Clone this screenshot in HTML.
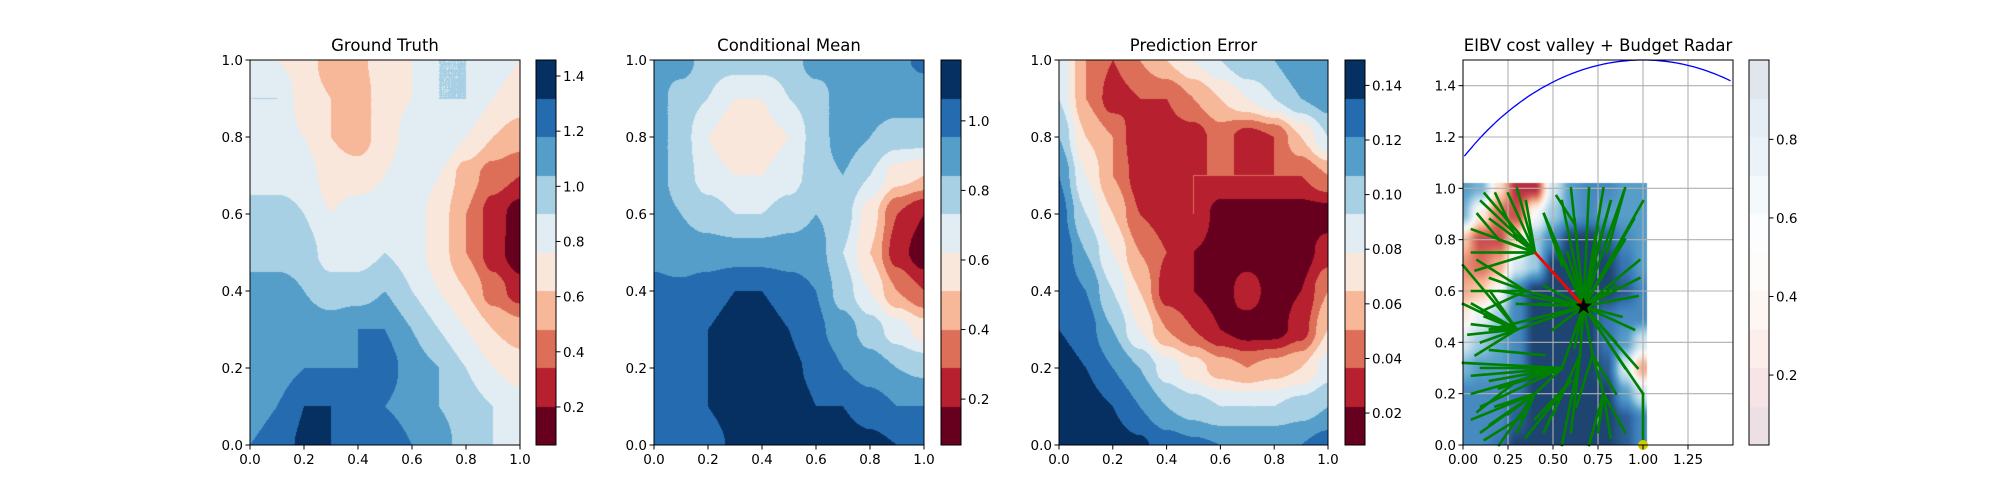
<!DOCTYPE html>
<html><head><meta charset="utf-8">
<style>
html,body{margin:0;padding:0;background:#fff;}
#wrap{position:relative;width:2000px;height:500px;overflow:hidden;font-family:"DejaVu Sans","Liberation Sans",sans-serif;}
canvas{position:absolute;}
svg{position:absolute;left:0;top:0;}
</style></head>
<body>
<div id="wrap">
<canvas id="c1"></canvas>
<canvas id="c2"></canvas>
<canvas id="c3"></canvas>
<canvas id="c4"></canvas>
<canvas id="cb1"></canvas>
<canvas id="cb2"></canvas>
<canvas id="cb3"></canvas>
<canvas id="cb4"></canvas>
<svg id="ov" width="2000" height="500"></svg>
</div>
<script>
// ---- data: bin levels (0 = darkest red .. 9.99 = darkest blue), rows y=1.0 -> 0.0, cols x=0..1 step 0.1
const gtGrid = [
[5,5,4.5,3.5,3.8,4.5,5,6,6,5.5,5],
[6,6,4.5,4,3.5,4.5,5,6,6,5,4.5],
[5.5,5.5,5,4,3.5,4.5,5.5,6,5,4,3.5],
[5.5,5.5,5.5,4.5,4.5,5,6,5,3.5,2.5,2],
[6.5,6.5,6,5,5.5,5.5,5.5,4.5,3,1.5,0.5],
[6.5,6.5,6.5,5.5,5.5,6,5.5,4.5,3,1.5,0.3],
[7.5,7.5,7,6.5,6.5,7,6,5,4,2.5,1.5],
[7.5,7.5,7.5,7.5,8,8,7,6,5,4,3.5],
[7.5,7.5,8,8,8,8.5,7.5,7,6,5,4.5],
[7.5,8,9,9,8,8,7.5,7,6.5,6,5.5],
[8,8.5,9.2,9,8.5,9,8,7.5,6.5,6,6]];
const meanGrid = [
[7.5,7.5,6.5,6.5,6.5,6.5,7.5,7.5,7.5,7.8,8.2],
[7.5,6.5,6,5,5,6,6.5,7.5,7.5,7.5,7.5],
[7.5,6.5,5,4,4.5,5,6.5,7.5,7,6.5,6.5],
[7.5,6.5,5.5,5,5,5.5,6.5,7,6,4.5,4],
[7.5,7,6.5,6,6,6.5,7,6.5,4.5,2,1],
[7.8,7.5,7.5,7.5,7.5,7.5,7.5,6,4,1.5,0.3],
[8.2,8.2,8.5,9,9,8.5,8,6.5,5,3,2],
[8.2,8.5,9,9.5,9.5,9,8.2,7.5,6.5,5.5,4.5],
[8.2,8.5,9,9.5,9.5,9.2,8.8,8,7.5,7,6.8],
[8.2,8.5,9,9.5,9.5,9.5,9,9,8.5,8,8],
[8.2,8.2,8.5,9.2,9.5,9.5,9.5,9.5,9.3,9,8.5]];
const errGrid = [
[6,3,2,3,4,5,6,7,7,8,8],
[6,3,1.5,2,2,3,4,5,6,7,7.5],
[7,4,3,1,1.5,1.5,2.5,1.5,2,4,6],
[8,5,3,1.5,1.5,2,2,2,2,2,3],
[8.5,6,4,2,1.5,2,0.5,0.5,0.5,0.5,0.5],
[9,7,5,3,2,1,0.5,0.5,0.5,0.5,1.5],
[9,8,6,4,1.5,1,0.5,1.5,0.5,1,3],
[9,8.5,7,5,3,2,1,0.5,0.5,1.5,4],
[9.5,9,8,7,5.5,4.5,3.5,3,3.5,4,5.5],
[9.5,9.5,9,8,7,6.5,6,6,6,6.5,7],
[9.5,9.5,9.5,9.2,8.5,8.2,8,8,8,8,8.5]];
// cost field 0 (red) .. 1 (blue)
const costGrid = [
[0.8,0.75,0.4,0.1,0.1,0.6,0.8,0.85,0.85,0.8,0.8],
[0.75,0.45,0.2,0.15,0.5,0.7,0.8,0.85,0.8,0.8,0.8],
[0.35,0.15,0.15,0.4,0.7,0.85,1,1,0.95,0.85,0.8],
[0.25,0.2,0.3,0.6,0.7,1,1,1,1,0.9,0.8],
[0.3,0.35,0.5,0.85,1,1,1,1,1,0.95,0.85],
[0.45,0.55,0.7,0.85,1,1,1,1,0.9,0.85,0.85],
[0.6,0.7,0.78,0.85,1,1,1,1,0.9,0.8,0.6],
[0.75,0.8,0.8,0.85,1,1,1,1,0.95,0.6,0.3],
[0.85,0.85,0.85,0.9,1,1,1,1,1,0.8,0.6],
[0.85,0.85,0.85,0.95,1,1,1,1,1,0.95,0.85],
[0.85,0.85,0.9,1,1,1,1,1,1,0.95,0.85]];
const unitTicks = [0,0.2,0.4,0.6,0.8,1.0];
const unitTickLabels = ["0.0","0.2","0.4","0.6","0.8","1.0"];
const p4xTicks = [0,0.25,0.5,0.75,1.0,1.25];
const p4xTickLabels = ["0.00","0.25","0.50","0.75","1.00","1.25"];
const p4yTicks = [0,0.2,0.4,0.6,0.8,1.0,1.2,1.4];
const p4yTickLabels = ["0.0","0.2","0.4","0.6","0.8","1.0","1.2","1.4"];
const cb1Ticks = [0.2,0.4,0.6,0.8,1.0,1.2,1.4];
const cb1Range = [0.062,1.458];
const cb2Ticks = [0.2,0.4,0.6,0.8,1.0];
const cb2Range = [0.068,1.175];
const cb3Ticks = [0.02,0.04,0.06,0.08,0.10,0.12,0.14];
const cb3Labels = ["0.02","0.04","0.06","0.08","0.10","0.12","0.14"];
const cb3Range = [0.0083,0.1493];
const cb4Ticks = [0.2,0.4,0.6,0.8];
const cb4Range = [0.022,1.002];
const star = [0.67,0.54];
const redPath = [[0.67,0.54],[0.4,0.75]];
const radarCenter = [1.0,0.0];
const radarRadius = 1.5;
// tree segments [x1,y1,x2,y2]
const treeSegs = [
[0.67,0.54,0.4,0.75],[0.67,0.54,0.3,0.45],[0.67,0.54,0.55,0.3],[0.67,0.54,0.72,0.35],[0.67,0.54,0.85,0.4],
[0.67,0.54,0.95,0.45],[0.67,0.54,0.97,0.58],[0.67,0.54,0.98,0.65],[0.67,0.54,0.9,0.8],[0.67,0.54,0.82,0.95],
[0.67,0.54,0.9,1.0],[0.67,0.54,1.0,0.95],[0.67,0.54,0.55,0.95],[0.67,0.54,0.45,0.9],[0.67,0.54,0.6,1.0],
[0.67,0.54,0.7,1.0],[0.67,0.54,0.78,1.0],[0.67,0.54,0.35,0.6],[0.67,0.54,0.2,0.6],[0.67,0.54,0.3,0.55],
[0.67,0.54,0.97,0.3],[0.67,0.54,0.62,0.38],[0.67,0.54,0.5,0.45],[0.67,0.54,0.15,0.45],[0.67,0.54,0.9,0.3],
[0.67,0.54,0.98,0.72],[0.67,0.54,0.95,0.88],[0.67,0.54,0.5,0.8],[0.67,0.54,0.62,0.88],[0.67,0.54,0.75,0.85],
[0.67,0.54,0.85,0.62],[0.67,0.54,0.88,0.5],[0.67,0.54,0.45,0.62],[0.67,0.54,0.42,0.55],[0.67,0.54,0.58,0.75],
[0.52,0.97,0.62,0.86],[0.45,0.9,0.55,0.7],[0.82,0.95,0.72,0.7],[0.9,1.0,0.8,0.75],
[0.4,0.75,0.05,0.84],[0.4,0.75,0.15,0.88],[0.4,0.75,0.1,0.95],[0.4,0.75,0.25,0.98],[0.4,0.75,0.3,1.0],
[0.4,0.75,0.07,0.68],[0.4,0.75,0.2,0.75],[0.4,0.75,0.05,0.75],[0.4,0.75,0.2,0.8],[0.4,0.75,0.35,0.95],
[0.4,0.75,0.12,0.98],[0.4,0.75,0.22,0.9],[0.3,0.8,0.18,0.98],[0.2,0.8,0.08,0.9],
[0.3,0.45,0.05,0.47],[0.3,0.45,0.07,0.35],[0.3,0.45,0.1,0.4],[0.3,0.45,0.15,0.45],[0.3,0.45,0.05,0.55],
[0.3,0.45,0.0,0.55],[0.3,0.45,0.12,0.5],[0.3,0.45,0.15,0.6],[0.3,0.45,0.0,0.7],[0.35,0.6,0.05,0.6],
[0.35,0.6,0.15,0.65],[0.35,0.6,0.08,0.72],[0.35,0.6,0.1,0.52],[0.3,0.45,0.03,0.43],
[0.55,0.3,0.0,0.32],[0.55,0.3,0.1,0.3],[0.55,0.3,0.05,0.2],[0.55,0.3,0.2,0.22],[0.55,0.3,0.15,0.25],
[0.55,0.3,0.1,0.15],[0.55,0.3,0.3,0.3],[0.55,0.3,0.4,0.2],[0.55,0.3,0.05,0.27],[0.45,0.35,0.15,0.37],
[0.4,0.2,0.1,0.05],[0.4,0.2,0.15,0.08],[0.4,0.2,0.2,0.0],[0.4,0.2,0.05,0.1],[0.4,0.2,0.3,0.05],[0.4,0.2,0.25,0.12],
[0.4,0.2,0.18,0.15],[0.35,0.12,0.12,0.02],[0.3,0.25,0.08,0.13],
[0.67,0.54,0.65,0.35],[0.65,0.35,0.55,0.0],[0.65,0.35,0.45,0.05],[0.65,0.35,0.6,0.05],[0.65,0.35,0.5,0.12],
[0.6,0.25,0.35,0.03],[0.6,0.25,0.4,0.1],
[0.72,0.35,0.78,0.2],[0.78,0.2,0.7,0.0],[0.78,0.2,0.82,0.03],[0.78,0.2,0.9,0.05],[0.78,0.2,0.75,0.05],
[0.72,0.35,0.85,0.2],[0.72,0.35,0.63,0.15],
[0.67,0.54,1.0,0.2],[1.0,0.2,1.0,0.0]];

// ---- helpers
const RDBU = ["#67001f","#b2182b","#d6604d","#f4a582","#fddbc7","#f7f7f7","#d1e5f0","#92c5de","#4393c3","#2166ac","#053061"];
function hex(h){return [parseInt(h.substr(1,2),16),parseInt(h.substr(3,2),16),parseInt(h.substr(5,2),16)];}
const RD = RDBU.map(hex);
function cmap(t){t=Math.max(0,Math.min(1,t));const f=t*10;const i=Math.min(9,Math.floor(f));const r=f-i;
  return [0,1,2].map(k=>RD[i][k]+(RD[i+1][k]-RD[i][k])*r);}
function binColor(b){return cmap(b/9);}
function interp(g,x,y){
  const n=g[0].length-1,m=g.length-1;
  const fx=Math.max(0,Math.min(n,x*n)), fy=Math.max(0,Math.min(m,(1-y)*m));
  const i=Math.min(n-1,Math.floor(fx)), j=Math.min(m-1,Math.floor(fy));
  let u=fx-i,v=fy-j;
  u=u*u*(3-2*u);v=v*v*(3-2*v);
  return g[j][i]*(1-u)*(1-v)+g[j][i+1]*u*(1-v)+g[j+1][i]*(1-u)*v+g[j+1][i+1]*u*v;
}
const AX=[{x0:250,x1:520,cb:536},{x0:654,x1:924,cb:941},{x0:1059,x1:1328,cb:1345},{x0:1463,x1:1733,cb:1749}];
const Y0=60,Y1=445;
function setup(id,x,y,w,h){const c=document.getElementById(id);c.width=w;c.height=h;c.style.left=x+'px';c.style.top=y+'px';return c.getContext('2d');}
function drawContour(id,ax,g){
  const w=ax.x1-ax.x0,h=Y1-Y0;const ctx=setup(id,ax.x0,Y0,w,h);
  const img=ctx.createImageData(w,h);
  for(let py=0;py<h;py++)for(let px=0;px<w;px++){
    const v=interp(g,(px+0.5)/w,1-(py+0.5)/h);
    const b=Math.max(0,Math.min(9,Math.floor(v)));const c=binColor(b);
    const o=(py*w+px)*4;img.data[o]=c[0];img.data[o+1]=c[1];img.data[o+2]=c[2];img.data[o+3]=255;}
  ctx.putImageData(img,0,0);
}
function drawCB(id,ax,pale){
  const ctx=setup(id,ax.cb,Y0,20,Y1-Y0);const h=Y1-Y0;
  for(let b=0;b<10;b++){let c=binColor(b);
    if(pale)c=c.map(v=>255-(255-v)*0.12);
    ctx.fillStyle='rgb('+c.map(Math.round).join(',')+')';
    const yt=h-(b+1)*h/10,yb=h-b*h/10;ctx.fillRect(0,Math.floor(yt),20,Math.ceil(yb)-Math.floor(yt));}
}
drawContour('c1',AX[0],gtGrid);drawContour('c2',AX[1],meanGrid);drawContour('c3',AX[2],errGrid);
drawCB('cb1',AX[0],false);drawCB('cb2',AX[1],false);drawCB('cb3',AX[2],false);drawCB('cb4',AX[3],true);
const P4={xmin:0,xmax:1.5,ymin:0,ymax:1.5};
function p4x(v){return AX[3].x0+(v-P4.xmin)/(P4.xmax-P4.xmin)*(AX[3].x1-AX[3].x0);}
function p4y(v){return Y1-(v-P4.ymin)/(P4.ymax-P4.ymin)*(Y1-Y0);}
(function(){
  const ax=AX[3];const w=ax.x1-ax.x0,h=Y1-Y0;const ctx=setup('c4',ax.x0,Y0,w,h);
  const img=ctx.createImageData(w,h);
  for(let py=0;py<h;py++)for(let px=0;px<w;px++){
    const dx=(px+0.5)/w*1.5, dy=(1-(py+0.5)/h)*1.5;const o=(py*w+px)*4;
    if(dx>1.02||dy>1.02){img.data[o+3]=0;continue;}
    const v=interp(costGrid,Math.min(1,dx),Math.min(1,dy));
    const c=cmap(v).map(t=>255-(255-t)*0.9);
    img.data[o]=c[0];img.data[o+1]=c[1];img.data[o+2]=c[2];img.data[o+3]=255;}
  ctx.putImageData(img,0,0);
})();
const svg=document.getElementById('ov');const NS='http://www.w3.org/2000/svg';
function el(tag,attrs,parent){const e=document.createElementNS(NS,tag);for(const k in attrs)e.setAttribute(k,attrs[k]);(parent||svg).appendChild(e);return e;}
function txt(x,y,s,anchor,size,name){const t=el('text',{x:x,y:y,'text-anchor':anchor,'font-size':size,'font-family':'DejaVu Sans, Liberation Sans, sans-serif',fill:'#000'});t.textContent=s;
  
  
  return t;}
const titles=["Ground Truth","Conditional Mean","Prediction Error","EIBV cost valley + Budget Radar"];
const g4=el('g',{});


p4xTicks.forEach(v=>el('line',{x1:p4x(v),x2:p4x(v),y1:Y0,y2:Y1,stroke:'#b0b0b0','stroke-width':1.1},g4));
p4yTicks.forEach(v=>el('line',{x1:AX[3].x0,x2:AX[3].x1,y1:p4y(v),y2:p4y(v),stroke:'#b0b0b0','stroke-width':1.1},g4));
let d='';for(let k=0;k<=200;k++){const a=Math.PI*k/200;const x=radarCenter[0]+radarRadius*Math.cos(a),y=radarCenter[1]+radarRadius*Math.sin(a);
  if(x<0||x>1.5)continue;d+=(d?'L':'M')+p4x(x).toFixed(1)+','+p4y(y).toFixed(1);}
const arc=el('path',{d:d,fill:'none',stroke:'#0000ff','stroke-width':1.3});


const tree=el('g',{stroke:'#008000','stroke-width':2.6,'stroke-linecap':'square'});


treeSegs.forEach(s=>{const l=el('line',{x1:p4x(s[0]),y1:p4y(s[1]),x2:p4x(s[2]),y2:p4y(s[3])},tree);
  
  });
const rp=el('polyline',{points:redPath.map(p=>p4x(p[0])+','+p4y(p[1])).join(' '),fill:'none',stroke:'#ff0000','stroke-width':2.6});


const yd=el('circle',{cx:p4x(radarCenter[0]),cy:p4y(radarCenter[1]),r:5,fill:'#cccc00'});


(function(){const cx=p4x(star[0]),cy=p4y(star[1]);let pts=[];for(let k=0;k<10;k++){const r=k%2?3.6:9;const a=-Math.PI/2+k*Math.PI/5;pts.push((cx+r*Math.cos(a)).toFixed(1)+','+(cy+r*Math.sin(a)).toFixed(1));}
  const s=el('polygon',{points:pts.join(' '),fill:'#000'});
  
  })();
AX.forEach((ax,i)=>{
  el('rect',{x:ax.x0,y:Y0,width:ax.x1-ax.x0,height:Y1-Y0,fill:'none',stroke:'#000','stroke-width':1});
  el('rect',{x:ax.cb,y:Y0,width:20,height:Y1-Y0,fill:'none',stroke:'#000','stroke-width':1});
  txt((ax.x0+ax.x1)/2,51,titles[i],'middle',16.5,'title-'+(i+1));
  let xt,xl,yt,yl,fx,fy;
  if(i<3){xt=unitTicks;xl=unitTickLabels;yt=unitTicks;yl=unitTickLabels;fx=v=>ax.x0+v*(ax.x1-ax.x0);fy=v=>Y1-v*(Y1-Y0);}
  else{xt=p4xTicks;xl=p4xTickLabels;yt=p4yTicks;yl=p4yTickLabels;fx=p4x;fy=p4y;}
  xt.forEach((v,k)=>{const x=fx(v);el('line',{x1:x,x2:x,y1:Y1,y2:Y1+4.5,stroke:'#000','stroke-width':1});txt(x,Y1+19,xl[k],'middle',13.5,'x-tick-label');});
  yt.forEach((v,k)=>{const y=fy(v);el('line',{x1:ax.x0-4.5,x2:ax.x0,y1:y,y2:y,stroke:'#000','stroke-width':1});txt(ax.x0-7,y+5,yl[k],'end',13.5,'y-tick-label');});
});
[[cb1Ticks,cb1Range,null],[cb2Ticks,cb2Range,null],[cb3Ticks,cb3Range,cb3Labels],[cb4Ticks,cb4Range,null]].forEach((c,i)=>{
  const ax=AX[i];c[0].forEach((v,k)=>{const y=Y1-(v-c[1][0])/(c[1][1]-c[1][0])*(Y1-Y0);
    el('line',{x1:ax.cb+20,x2:ax.cb+24.5,y1:y,y2:y,stroke:'#000','stroke-width':1});
    txt(ax.cb+27,y+5,c[2]?c[2][k]:v.toFixed(1),'start',13.5,'colorbar-tick-label');});
});
</script>
</body></html>
